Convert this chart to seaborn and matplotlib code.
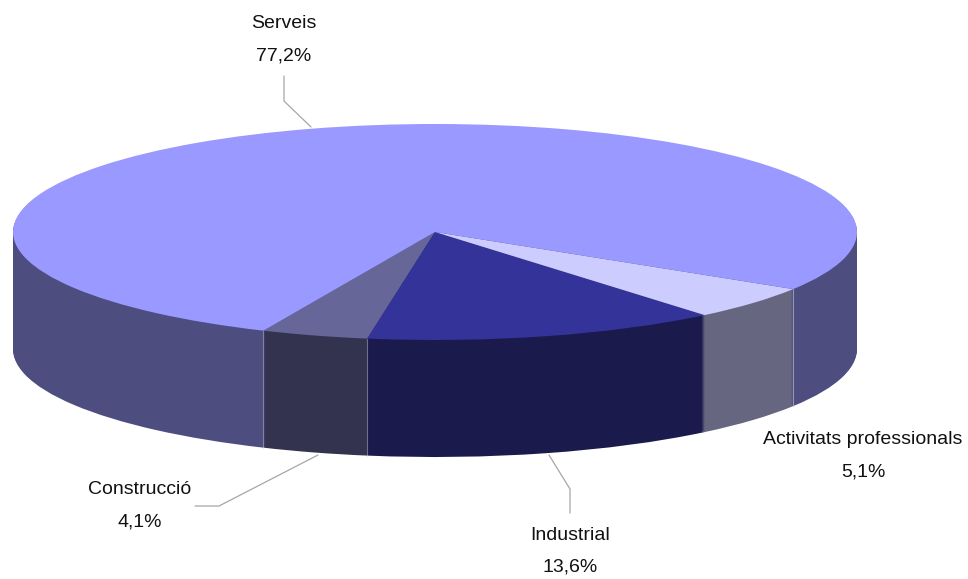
import numpy as np
import matplotlib
matplotlib.use("Agg")
import matplotlib.pyplot as plt
import matplotlib.font_manager as fm
import seaborn as sns

categories = ["Construcció", "Industrial", "Activitats professionals", "Serveis"]
values = [4.1, 13.6, 5.1, 77.2]
value_labels = ["4,1%", "13,6%", "5,1%", "77,2%"]
top_colors = ["#666699", "#333399", "#CCCCFF", "#9999FF"]
side_colors = ["#333350", "#1A1A4D", "#666680", "#4D4D80"]

W, H = 968, 579
CX, CY, RX, RY, DEPTH = 435, 232, 422, 108, 117
START = -114

sns.set_theme(style="white")
names = {f.name for f in fm.fontManager.ttflist}
narrow = "Liberation Sans Narrow" in names
print("narrow available:", narrow)
plt.rcParams["font.family"] = (["Liberation Sans Narrow"] if narrow else ["Liberation Sans"]) + ["DejaVu Sans"]
FS = 16.7 if narrow else 14

fig = plt.figure(figsize=(W / 100, H / 100), dpi=100, facecolor="white")
ax = fig.add_axes([0, 0, 1, 1])

# extruded body: stacked pies, bottom to top
for px in range(DEPTH, 0, -1):
    ax.pie(values, colors=side_colors, startangle=START, center=(0, -px / RY),
           radius=1, wedgeprops={"linewidth": 0})
ax.pie(values, colors=top_colors, startangle=START, center=(0, 0),
       radius=1, wedgeprops={"linewidth": 0})

ax.set_aspect("auto")
ax.set_xlim(-CX / RX, (W - CX) / RX)
ax.set_ylim((CY - H) / RY, CY / RY)
ax.axis("off")

# pale seams between the side walls
edges = START + np.cumsum(values)[:-1] * 3.6
edges = np.append(edges, START)
seam_alpha = [0.45, 0.0, 0.6, 0.45]
for ang, a in zip(edges, seam_alpha):
    if a == 0:
        continue
    x = np.cos(np.radians(ang))
    y = np.sin(np.radians(ang))
    ax.plot([x, x], [y, y - DEPTH / RY], color="#C8C8D8", lw=0.8, alpha=a, zorder=5)

def fx(p):
    return p / W

def fy(p):
    return 1 - p / H

# labels: (centre x, first line y, second line y)
label_pos = [(140, 490, 522), (570, 535, 567), (863, 440, 472), (284, 24, 56)]
for name, val, (tx, y1, y2) in zip(categories, value_labels, label_pos):
    fig.text(fx(tx), fy(y1), name, ha="center", va="center", fontsize=FS, color="#111111")
    fig.text(fx(tx), fy(y2), val, ha="center", va="center", fontsize=FS, color="#111111")

# leader lines
leaders = [
    [(195, 506), (219, 506), (318, 455)],
    [(570, 513), (570, 489), (549, 455)],
    [(284, 76), (284, 101), (311, 127)],
]
for pts in leaders:
    xs = [fx(p[0]) for p in pts]
    ys = [fy(p[1]) for p in pts]
    fig.add_artist(plt.Line2D(xs, ys, color="#A6A6A6", lw=0.9))

fig.savefig("out.png", dpi=100, facecolor="white")
